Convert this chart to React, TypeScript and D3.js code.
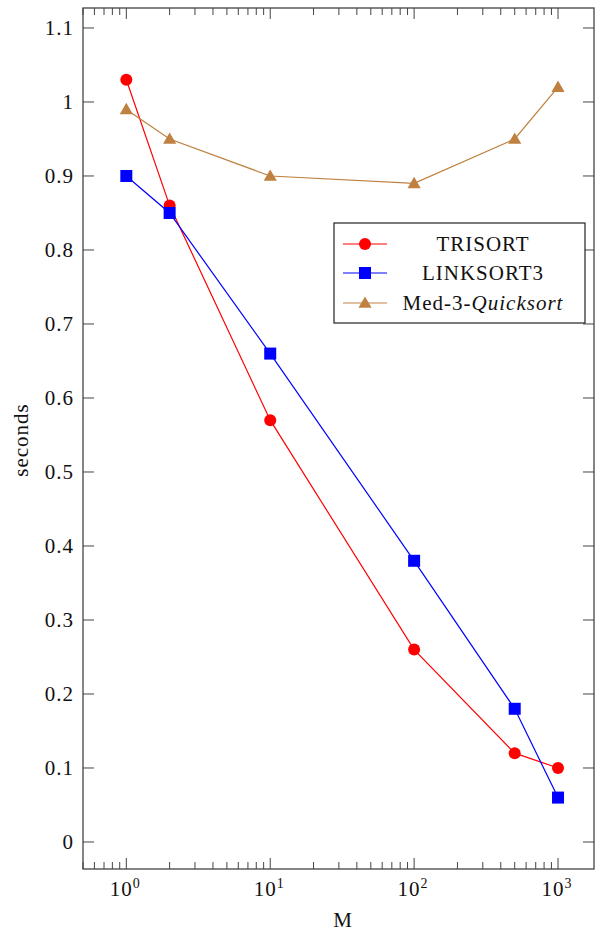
import * as d3 from 'd3';

const mValues = [1, 2, 10, 100, 500, 1000];
const trisort = [1.03, 0.86, 0.57, 0.26, 0.12, 0.1];
const linksort3 = [0.9, 0.85, 0.66, 0.38, 0.18, 0.06];
const med3 = [0.99, 0.95, 0.9, 0.89, 0.95, 1.02];
const yTicks = [0, 0.1, 0.2, 0.3, 0.4, 0.5, 0.6, 0.7, 0.8, 0.9, 1, 1.1];
const xMajor = [1, 10, 100, 1000];

const series = [
    { name: 'TRISORT', values: trisort, color: '#ff0000', marker: 'circle' },
    { name: 'LINKSORT3', values: linksort3, color: '#0000ff', marker: 'square' },
    { name: 'Med-3-', italic: 'Quicksort', values: med3, color: '#bf8040', marker: 'triangle' },
];

const width = 595;
const height = 934;
const left = 83;
const right = 594;
const top = 8;
const bottom = 869;
const font = '"Liberation Serif", "DejaVu Serif", serif';
const axisColor = '#444';

function Marker({ type, x, y, color }) {
    if (type === 'circle') return <circle cx={x} cy={y} r={6} fill={color} />;
    if (type === 'square') return <rect x={x - 6} y={y - 6} width={12} height={12} fill={color} />;
    return <path d={d3.symbol(d3.symbolTriangle, 75)()} transform={`translate(${x},${y + 1})`} fill={color} />;
}

export default function App() {
    const x = d3.scaleLog([0.5, Math.pow(10, 3.25)], [left, right]);
    const y = d3.scaleLinear([-0.0365, 1.127], [bottom, top]);

    const minor = [];
    for (let e = -1; e <= 3; e++) {
        for (let k = 2; k <= 9; k++) {
            const v = k * Math.pow(10, e);
            if (v >= 0.5 && v <= Math.pow(10, 3.25)) minor.push(v);
        }
    }

    const line = d3.line().x((d) => x(d[0])).y((d) => y(d[1]));

    const legX = 334, legY = 223, legW = 251, legH = 100;
    const rowY = [244, 273, 303];

    return (
        <svg width={width} height={height} style={{ position: 'absolute', left: 0, top: 0 }} fontFamily={font}>
            <rect x={0} y={0} width={width} height={height} fill="#fff" />

            {/* ticks */}
            <g stroke={axisColor} strokeWidth={1}>
                {yTicks.map((t) => (
                    <g key={t}>
                        <line x1={left} x2={left + 11} y1={y(t)} y2={y(t)} />
                        <line x1={right} x2={right - 11} y1={y(t)} y2={y(t)} />
                    </g>
                ))}
                {xMajor.map((t) => (
                    <g key={t}>
                        <line x1={x(t)} x2={x(t)} y1={bottom} y2={bottom - 11} />
                        <line x1={x(t)} x2={x(t)} y1={top} y2={top + 11} />
                    </g>
                ))}
                {minor.map((t) => (
                    <g key={t}>
                        <line x1={x(t)} x2={x(t)} y1={bottom} y2={bottom - 7} />
                        <line x1={x(t)} x2={x(t)} y1={top} y2={top + 7} />
                    </g>
                ))}
            </g>

            {/* series */}
            {series.map((s) => (
                <g key={s.name}>
                    <path d={line(mValues.map((m, i) => [m, s.values[i]]))} fill="none" stroke={s.color} strokeWidth={1.2} />
                    {mValues.map((m, i) => (
                        <Marker key={i} type={s.marker} x={x(m)} y={y(s.values[i])} color={s.color} />
                    ))}
                </g>
            ))}

            <rect x={left} y={top} width={right - left} height={bottom - top} fill="none" stroke={axisColor} strokeWidth={1.3} />

            {/* tick labels */}
            <g fontSize={21} fill="#111" letterSpacing={1}>
                {yTicks.map((t) => (
                    <text key={t} x={74} y={y(t)} textAnchor="end" dominantBaseline="central">
                        {t === 0 ? '0' : d3.format('~g')(t)}
                    </text>
                ))}
                {xMajor.map((t) => (
                    <text key={t} x={x(t) - 1} y={896} textAnchor="middle">
                        10<tspan fontSize={14} dy={-8}>{Math.round(Math.log10(t))}</tspan>
                    </text>
                ))}
                <text x={343} y={927} textAnchor="middle">M</text>
                <text transform="translate(28,440) rotate(-90)" textAnchor="middle">seconds</text>
            </g>

            {/* legend */}
            <rect x={legX} y={legY} width={legW} height={legH} fill="#fff" stroke="#222" strokeWidth={1.2} />
            {series.map((s, i) => (
                <g key={s.name}>
                    <line x1={343} x2={387} y1={rowY[i]} y2={rowY[i]} stroke={s.color} strokeWidth={1.2} />
                    <Marker type={s.marker} x={365} y={rowY[i]} color={s.color} />
                    <text x={483} y={rowY[i]} fontSize={21} letterSpacing={1} fill="#111" textAnchor="middle" dominantBaseline="central">
                        {s.name}
                        {s.italic && <tspan fontStyle="italic">{s.italic}</tspan>}
                    </text>
                </g>
            ))}
        </svg>
    );
}
